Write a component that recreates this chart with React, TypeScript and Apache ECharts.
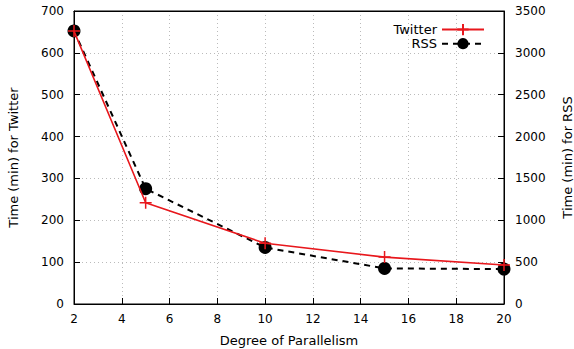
import React, { useEffect, useRef } from "react";
import * as echarts from "echarts";

const parallelism = [2, 5, 10, 15, 20];
const twitterMinutes = [652, 242, 145, 112, 93];
const rssMinutes = [3262, 1377, 675, 425, 417];

const FONT = "DejaVu Sans";
const RED = "#e8171c";

export default function App() {
  const ref = useRef<HTMLDivElement>(null);
  useEffect(() => {
    document.body.style.margin = "0";
    const chart = echarts.init(ref.current!, null, { renderer: "svg" });
    chart.setOption({
      animation: false,
      textStyle: { fontFamily: FONT, fontSize: 12, color: "#000" },
      grid: {
        left: 74,
        right: 70,
        top: 11,
        bottom: 45,
        show: true,
        borderColor: "#000",
        borderWidth: 1,
        outerBoundsMode: "none",
        containLabel: false,
      },
      legend: {
        right: 84,
        top: 18,
        orient: "vertical",
        align: "right",
        itemWidth: 42,
        itemHeight: 14,
        itemGap: 1,
        textStyle: { fontFamily: FONT, fontSize: 13, color: "#000" },
        data: ["Twitter", "RSS"],
      },
      xAxis: [
        {
          type: "value",
          min: 2,
          max: 20,
          interval: 2,
          name: "Degree of Parallelism",
          nameLocation: "middle",
          nameGap: 30,
          nameTextStyle: { fontFamily: FONT, fontSize: 13, color: "#000" },
          axisLine: { show: true, lineStyle: { color: "#000" } },
          axisTick: { inside: true, length: 6, lineStyle: { color: "#000" } },
          axisLabel: { fontFamily: FONT, fontSize: 12, color: "#000", margin: 9 },
          splitLine: { show: true, showMinLine: false, showMaxLine: false, lineStyle: { color: "#bbb", type: [1, 3] } },
        },
        {
          type: "value",
          position: "top",
          min: 2,
          max: 20,
          interval: 2,
          z: 10,
          axisLine: { show: true, onZero: false, lineStyle: { color: "#000" } },
          axisTick: { show: false },
          axisLabel: { show: false },
          splitLine: { show: false },
        },
      ],
      yAxis: [
        {
          type: "value",
          min: 0,
          max: 700,
          interval: 100,
          name: "Time (min) for Twitter",
          nameLocation: "middle",
          nameGap: 54,
          nameTextStyle: { fontFamily: FONT, fontSize: 13, color: "#000" },
          axisLine: { show: true, lineStyle: { color: "#000" } },
          axisTick: { show: true, inside: true, length: 6, lineStyle: { color: "#000" } },
          axisLabel: { fontFamily: FONT, fontSize: 12, color: "#000", margin: 10, formatter: (v: number) => String(v) },
          splitLine: { show: true, showMinLine: false, showMaxLine: false, lineStyle: { color: "#bbb", type: [1, 3] } },
        },
        {
          type: "value",
          min: 0,
          max: 3500,
          interval: 500,
          position: "right",
          name: "Time (min) for RSS",
          nameLocation: "middle",
          nameGap: 57,
          nameTextStyle: { fontFamily: FONT, fontSize: 13, color: "#000" },
          axisLine: { show: true, lineStyle: { color: "#000" } },
          axisTick: { show: true, inside: true, length: 6, lineStyle: { color: "#000" } },
          axisLabel: { fontFamily: FONT, fontSize: 12, color: "#000", margin: 11, formatter: (v: number) => String(v) },
          splitLine: { show: false },
        },
      ],
      series: [
        {
          name: "Twitter",
          type: "line",
          xAxisIndex: 0,
          yAxisIndex: 0,
          data: parallelism.map((x, i) => [x, twitterMinutes[i]]),
          symbol: "path://M0,6 L12,6 M6,0 L6,12",
          symbolSize: 12,
          lineStyle: { color: RED, width: 1.6 },
          itemStyle: { color: RED, borderColor: RED, borderWidth: 1.5 },
          z: 3,
        },
        {
          name: "RSS",
          type: "line",
          xAxisIndex: 0,
          yAxisIndex: 1,
          data: parallelism.map((x, i) => [x, rssMinutes[i]]),
          symbol: "circle",
          symbolSize: 13,
          lineStyle: { color: "#000", width: 2, type: [6, 5] },
          itemStyle: { color: "#000" },
          z: 2,
        },
      ],
    });
    return () => chart.dispose();
  }, []);
  return <div ref={ref} style={{ width: 574, height: 349 }} />;
}
